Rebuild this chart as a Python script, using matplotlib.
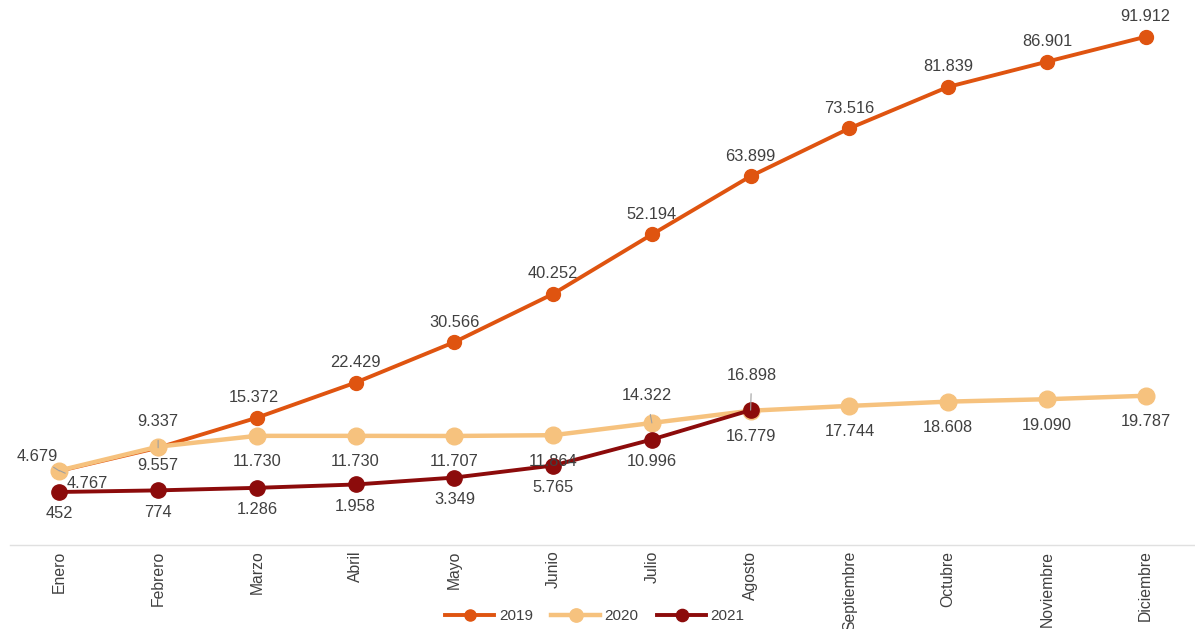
import matplotlib
matplotlib.use("Agg")
import matplotlib.pyplot as plt

plt.rcParams["font.family"] = ["Liberation Sans", "DejaVu Sans"]

months = ["Enero", "Febrero", "Marzo", "Abril", "Mayo", "Junio", "Julio",
          "Agosto", "Septiembre", "Octubre", "Noviembre", "Diciembre"]
v2019 = [4679, 9337, 15372, 22429, 30566, 40252, 52194, 63899, 73516, 81839, 86901, 91912]
v2020 = [4767, 9557, 11730, 11730, 11707, 11864, 14322, 16779, 17744, 18608, 19090, 19787]
v2021 = [452, 774, 1286, 1958, 3349, 5765, 10996, 16898]

c2019 = "#DF5410"
c2020 = "#F6C27E"
c2021 = "#8C0B0B"
txtc = "#404040"

def fmt(v):
    return f"{v:,}".replace(",", ".")

fig = plt.figure(figsize=(11.95, 6.29), dpi=100)
ax = fig.add_axes([10/1195, 84/629, 1185/1195, 545/629])
x = list(range(len(months)))

ax.plot(x, v2019, color=c2019, lw=2.8, marker="o", ms=10, label="2019", zorder=3)
ax.plot(x, v2020, color=c2020, lw=3.2, marker="o", ms=12, label="2020", zorder=4)
ax.plot(x[:len(v2021)], v2021, color=c2021, lw=2.8, marker="o", ms=11, label="2021", zorder=5)

ax.set_xlim(-0.5, 11.5)
ax.set_ylim(-10200, 99300)

def lab(xi, v, dx, dy, leader=False):
    kw = dict(xy=(xi, v), xytext=(dx, dy), textcoords="offset pixels",
              ha="center", va="center", fontsize=11.8, color=txtc, zorder=6)
    if leader:
        kw["arrowprops"] = dict(arrowstyle="-", color="#a0a0a0", lw=0.8,
                                shrinkA=6, shrinkB=0)
    ax.annotate(fmt(v), **kw)

# 2019 labels above
for i, v in enumerate(v2019):
    if i == 0:
        lab(i, v, -22, 14, True)
    elif i == 1:
        lab(i, v, 0, 26, True)
    else:
        lab(i, v, -3 if i == 2 else 0, 20)

# 2020 labels below
for i, v in enumerate(v2020):
    if i == 0:
        lab(i, v, 28, -13, True)
    elif i == 6:
        lab(i, v, -5, 27, True)
    elif i == 1:
        lab(i, v, 0, -19)
    else:
        lab(i, v, 0, -26)

# 2021 labels below
for i, v in enumerate(v2021):
    if i == 7:
        lab(i, v, 1, 35, True)
    else:
        lab(i, v, 0, -22)

for s in ["top", "right", "left"]:
    ax.spines[s].set_visible(False)
ax.spines["bottom"].set_color("#e0e0e0")
ax.spines["bottom"].set_linewidth(1)

ax.set_yticks([])
ax.set_xticks(x)
ax.set_xticklabels(months, rotation=90, fontsize=11.3, color=txtc, va="top", ha="center")
ax.tick_params(axis="x", length=0, pad=4)

leg = fig.legend(loc="center", bbox_to_anchor=(595/1195, 1 - 616/629), ncol=3,
                 frameon=False, fontsize=11, handlelength=3.2, columnspacing=1.2,
                 handletextpad=0.3, markerscale=0.8)
for t in leg.get_texts():
    t.set_color(txtc)

fig.savefig("out.png", dpi=100)
